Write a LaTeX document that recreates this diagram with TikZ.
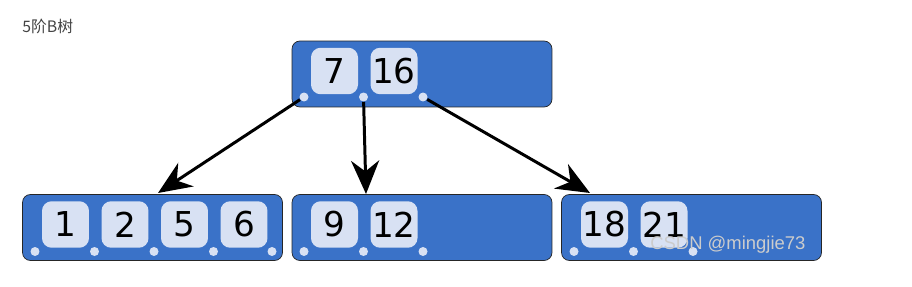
\documentclass[tikz,border=0pt]{standalone}
\usepackage{fontspec}
\setmainfont{DejaVu Sans}
\newfontfamily\cjkfont{Noto Sans CJK SC}
\newfontfamily\markfont{Liberation Sans}
\usepackage{tikz}
\usetikzlibrary{positioning, arrows.meta}
\definecolor{nodeblue}{HTML}{3A72C8}
\definecolor{keyfill}{HTML}{D8E1F3}
\definecolor{titlegray}{HTML}{444444}

\begin{document}
\begin{tikzpicture}[
    x=0.02cm, y=-0.02cm,
    >={Stealth[length=19pt, width=16pt]},
    ptr/.style={->, line width=1.7pt},
    bnode/.style={draw=black!85, fill=nodeblue, rounded corners=4.5pt, minimum width=5.2cm, minimum height=1.32cm, inner sep=0pt},
    key/.style={fill=keyfill, rounded corners=5.5pt, minimum width=0.94cm, minimum height=0.93cm, inner sep=0pt, font=\fontsize{19.5}{23}\selectfont},
    dot/.style={circle, fill=keyfill, inner sep=0pt, minimum size=0.18cm}
]

% Canvas
\fill[white] (0,0) rectangle (912,287);
\useasboundingbox (0,0) rectangle (912,287);

% Title
\node[font=\cjkfont\fontsize{9}{11}\selectfont, text=titlegray, anchor=base west, inner sep=0pt] (title) at (22,33) {5阶B树};

% Root node
\node[bnode] (root) at (422,74) {};
\node[key] (k7) at (334.5,71) {7};
\node[key] (k16) at (394,71) {16};
\node[dot] (r0) at (304,97) {};
\node[dot] (r1) at (363.5,97) {};
\node[dot] (r2) at (423,97) {};

% Left child
\node[bnode] (left) at (152.5,227.5) {};
\node[key] (k1) at (65.5,224.5) {1};
\node[key] (k2) at (125,224.5) {2};
\node[key] (k5) at (184.5,224.5) {5};
\node[key] (k6) at (244,224.5) {6};
\node[dot] (a0) at (35,251.5) {};
\node[dot] (a1) at (94.5,251.5) {};
\node[dot] (a2) at (154,251.5) {};
\node[dot] (a3) at (213.5,251.5) {};
\node[dot] (a4) at (272,251.5) {};

% Middle child
\node[bnode] (mid) at (422,227.5) {};
\node[key] (k9) at (334.5,224.5) {9};
\node[key] (k12) at (394,224.5) {12};
\node[dot] (b0) at (304,251.5) {};
\node[dot] (b1) at (363.5,251.5) {};
\node[dot] (b2) at (423,251.5) {};

% Right child
\node[bnode] (right) at (691.5,227.5) {};
\node[key] (k18) at (604.5,224.5) {18};
\node[key] (k21) at (664,224.5) {21};
\node[dot] (c0) at (574,251.5) {};
\node[dot] (c1) at (633.5,251.5) {};
\node[dot] (c2) at (693,251.5) {};

% Pointer targets on the children
\coordinate (t1) at (158,193);
\coordinate (t2) at (366,194);
\coordinate (t3) at (590,193);

% Pointers
\draw[ptr] (r0) -- (t1);
\draw[ptr] (r1) -- (t2);
\draw[ptr] (r2) -- (t3);

% Watermark
\node[font=\markfont\fontsize{10.5}{12}\selectfont, text=black!20, anchor=base west, inner sep=0pt] (mark) at (650,249) {CSDN @mingjie73};

\end{tikzpicture}
\end{document}
